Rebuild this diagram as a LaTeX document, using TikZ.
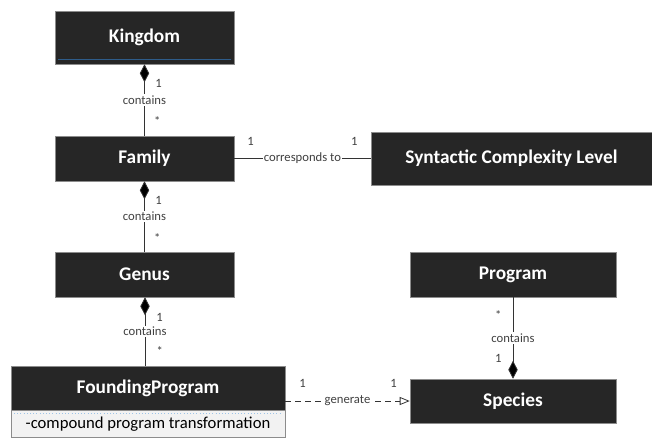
\documentclass[tikz,border=0pt]{standalone}
\usepackage{fontspec}
\setmainfont{Carlito}
\usetikzlibrary{arrows.meta}
\usetikzlibrary{positioning}

\definecolor{boxfill}{HTML}{262626}
\definecolor{boxline}{HTML}{8C8C8C}
\definecolor{attrfill}{HTML}{F2F2F2}
\definecolor{lbltext}{HTML}{404040}
\definecolor{sepblue}{HTML}{2E5C8A}
\definecolor{dotblue}{HTML}{9DC3E6}

\tikzset{
  classbox/.style={draw=boxline, fill=boxfill, text=white, inner sep=0pt,
    font=\fontsize{14.5}{16}\selectfont\bfseries},
  attrbox/.style={draw=boxline, fill=attrfill, text=black, inner sep=0pt,
    font=\fontsize{12.5}{14}\selectfont},
  assoc/.style={draw=black!80, line width=0.6pt},
  compose/.style={assoc, {Diamond[length=13.5pt,width=7pt,fill=black]}-},
  lbl/.style={fill=white, inner sep=1pt, text=lbltext, font=\fontsize{9.5}{11}\selectfont},
  mult/.style={inner sep=0pt, text=lbltext, font=\fontsize{9.5}{11}\selectfont}
}

\begin{document}
\begin{tikzpicture}[x=0.75pt, y=-0.75pt]
  \useasboundingbox (0,0) rectangle (652,437);

  % class boxes
  \node[classbox, minimum width=134pt, minimum height=39.75pt] (kingdom) at (144.5,37.5) {Kingdom};
  \draw[sepblue, line width=0.4pt] (58,59) -- (231,59);
  \node[classbox, minimum width=134pt, minimum height=33.75pt] (family) at (144.5,158.5) {Family};
  \node[classbox, minimum width=134pt, minimum height=33.75pt] (genus) at (144.5,274.5) {Genus};
  \node[classbox, minimum width=205.5pt, minimum height=33pt] (founding) at (148,388) {FoundingProgram};
  \node[attrbox, minimum width=205.5pt, minimum height=20pt, anchor=north] (attr) at (founding.south) {-compound program transformation};
  \draw[dotblue, dotted, line width=0.4pt] (14,413) -- (282,413);
  \node[classbox, minimum width=210.75pt, minimum height=39.75pt] (scl) at (511.5,158.5) {Syntactic Complexity Level};
  \node[classbox, minimum width=154.5pt, minimum height=33.75pt] (program) at (513,274.5) {Program};
  \node[classbox, minimum width=154.5pt, minimum height=33pt] (species) at (513,401) {Species};

  % contains
  \draw[compose] (kingdom) -- node[lbl] {contains}
    node[mult, pos=.27, xshift=10.5pt] {1}
    node[mult, pos=.8, xshift=9.5pt] {*} (family);
  \draw[compose] (family) -- node[lbl] {contains}
    node[mult, pos=.27, xshift=10.5pt] {1}
    node[mult, pos=.8, xshift=9.5pt] {*} (genus);
  \draw[compose] (genus.south -| 145,0) -- node[lbl] {contains}
    node[mult, pos=.3, xshift=11pt] {1}
    node[mult, pos=.78, xshift=11pt] {*} (founding.north -| 145,0);
  \draw[assoc, -{Diamond[length=13.5pt,width=7pt,fill=black]}] (program) -- node[lbl] {contains}
    node[mult, pos=.22, xshift=-11pt] {*}
    node[mult, pos=.75, xshift=-11pt] {1} (species);

  % other associations
  \draw[assoc] (family) -- node[lbl, pos=.5] {corresponds to}
    node[mult, pos=.12, yshift=13pt] {1}
    node[mult, pos=.88, yshift=13pt] {1} (scl);
  \draw[assoc, dashed, dash pattern=on 4.5pt off 3pt, -{Triangle[open, length=7.5pt, width=6pt]}] (founding.east |- species) -- node[lbl, pos=.5] {generate}
    node[mult, pos=.14, yshift=13pt] {1}
    node[mult, pos=.87, yshift=13pt] {1} (species);
\end{tikzpicture}
\end{document}
